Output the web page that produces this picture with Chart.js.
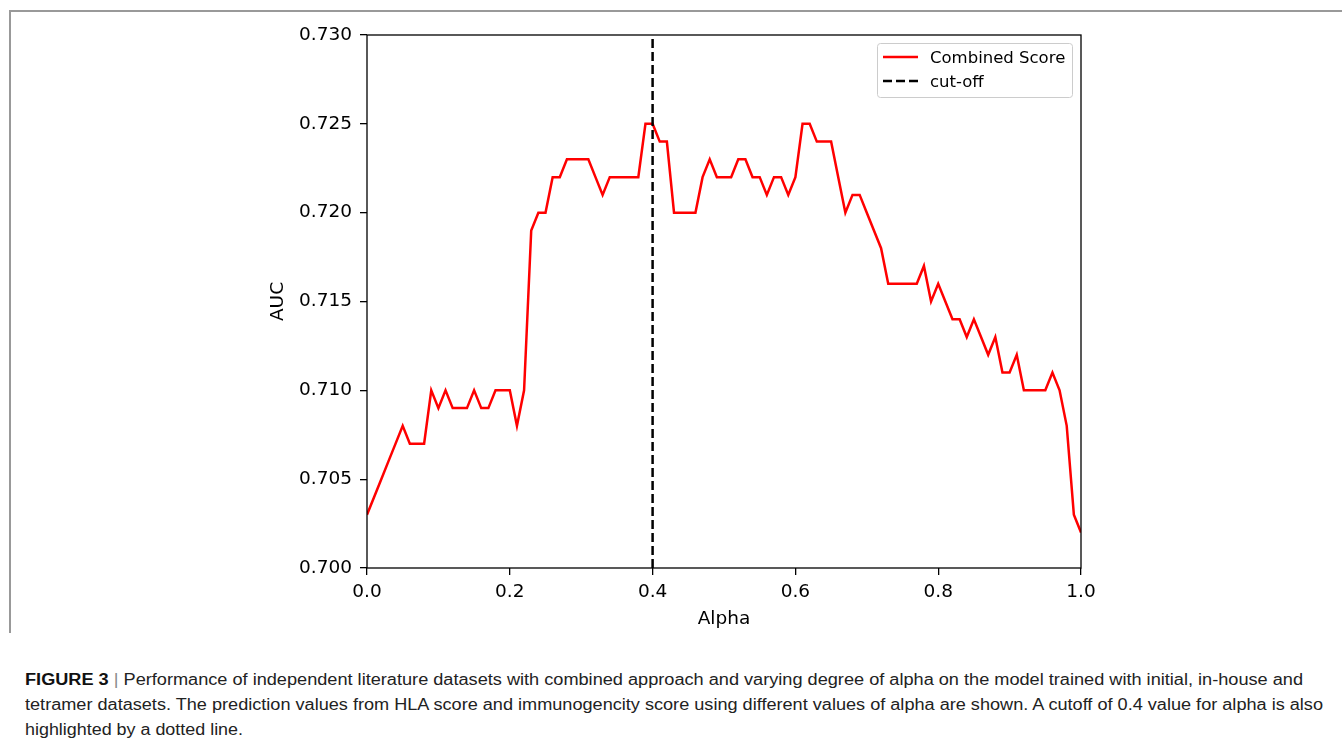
<!DOCTYPE html>
<html>
<head>
<meta charset="utf-8">
<script src="https://cdn.jsdelivr.net/npm/chart.js@4.4.1/dist/chart.umd.min.js"></script>
<style>
  html, body { margin:0; padding:0; background:#fff; width:1342px; height:746px; overflow:hidden; }
  #frame { position:absolute; left:9px; top:10px; width:1340px; height:623px; border-top:2px solid #999; border-left:2px solid #999; box-sizing:border-box; }
  #c { position:absolute; left:0; top:0; }
  #cap { position:absolute; left:25px; top:667px; font-family:"Liberation Sans", Arial, sans-serif; font-size:16px; line-height:25px; color:#222; }
  #cap div { white-space:nowrap; transform-origin:0 0; }
  #cap b { color:#111; }
  #cap .bar { color:#888; }
</style>
</head>
<body>
<div id="frame"></div>
<canvas id="c" width="1342" height="640"></canvas>
<div id="cap">
  <div id="l1" data-w="1278"><b>FIGURE 3</b> <span class="bar">|</span> Performance of independent literature datasets with combined approach and varying degree of alpha on the model trained with initial, in-house and</div>
  <div id="l2" data-w="1298">tetramer datasets. The prediction values from HLA score and immunogencity score using different values of alpha are shown. A cutoff of 0.4 value for alpha is also</div>
  <div id="l3" data-w="218">highlighted by a dotted line.</div>
</div>
<script>
const alpha = [0.00,0.01,0.02,0.03,0.04,0.05,0.06,0.07,0.08,0.09,
  0.10,0.11,0.12,0.13,0.14,0.15,0.16,0.17,0.18,0.19,
  0.20,0.21,0.22,0.23,0.24,0.25,0.26,0.27,0.28,0.29,
  0.30,0.31,0.32,0.33,0.34,0.35,0.36,0.37,0.38,0.39,
  0.40,0.41,0.42,0.43,0.44,0.45,0.46,0.47,0.48,0.49,
  0.50,0.51,0.52,0.53,0.54,0.55,0.56,0.57,0.58,0.59,
  0.60,0.61,0.62,0.63,0.64,0.65,0.66,0.67,0.68,0.69,
  0.70,0.71,0.72,0.73,0.74,0.75,0.76,0.77,0.78,0.79,
  0.80,0.81,0.82,0.83,0.84,0.85,0.86,0.87,0.88,0.89,
  0.90,0.91,0.92,0.93,0.94,0.95,0.96,0.97,0.98,0.99,1.00];
const combinedScore = [0.703,0.704,0.705,0.706,0.707,0.708,0.707,0.707,0.707,0.710,
  0.709,0.710,0.709,0.709,0.709,0.710,0.709,0.709,0.710,0.710,
  0.710,0.708,0.710,0.719,0.720,0.720,0.722,0.722,0.723,0.723,
  0.723,0.723,0.722,0.721,0.722,0.722,0.722,0.722,0.722,0.725,
  0.725,0.724,0.724,0.720,0.720,0.720,0.720,0.722,0.723,0.722,
  0.722,0.722,0.723,0.723,0.722,0.722,0.721,0.722,0.722,0.721,
  0.722,0.725,0.725,0.724,0.724,0.724,0.722,0.720,0.721,0.721,
  0.720,0.719,0.718,0.716,0.716,0.716,0.716,0.716,0.717,0.715,
  0.716,0.715,0.714,0.714,0.713,0.714,0.713,0.712,0.713,0.711,
  0.711,0.712,0.710,0.710,0.710,0.710,0.711,0.710,0.708,0.703,0.702];
const cutoffX = [0.4, 0.4];
const cutoffY = [0.700, 0.730];
const xTicks = [0.0, 0.2, 0.4, 0.6, 0.8, 1.0];
const yTicks = [0.700, 0.705, 0.710, 0.715, 0.720, 0.725, 0.730];
const legendLabels = ["Combined Score", "cut-off"];

const tickFont = { family: "'DejaVu Sans', sans-serif", size: 18.5 };
const dash = [9, 4];

const framePlugin = {
  id: 'frame',
  afterDatasetsDraw(chart) {
    const { ctx, chartArea: a } = chart;
    ctx.save();
    ctx.strokeStyle = '#000';
    ctx.lineWidth = 1.3;
    ctx.strokeRect(a.left, a.top, a.right - a.left, a.bottom - a.top);
    ctx.restore();
  },
  afterDraw(chart) {
    const { ctx } = chart;
    ctx.save();
    const bx = 877.5, by = 43.5, bw = 195, bh = 54, r = 3;
    ctx.beginPath();
    ctx.moveTo(bx + r, by);
    ctx.arcTo(bx + bw, by, bx + bw, by + bh, r);
    ctx.arcTo(bx + bw, by + bh, bx, by + bh, r);
    ctx.arcTo(bx, by + bh, bx, by, r);
    ctx.arcTo(bx, by, bx + bw, by, r);
    ctx.closePath();
    ctx.fillStyle = 'rgba(255,255,255,0.8)';
    ctx.fill();
    ctx.strokeStyle = '#cccccc';
    ctx.lineWidth = 1;
    ctx.stroke();
    ctx.lineWidth = 2.5;
    ctx.strokeStyle = '#ff0000';
    ctx.beginPath(); ctx.moveTo(883, 57); ctx.lineTo(918, 57); ctx.stroke();
    ctx.strokeStyle = '#000';
    ctx.setLineDash(dash);
    ctx.beginPath(); ctx.moveTo(883, 81); ctx.lineTo(918, 81); ctx.stroke();
    ctx.setLineDash([]);
    ctx.fillStyle = '#000';
    ctx.font = "16.5px 'DejaVu Sans', sans-serif";
    ctx.textBaseline = 'middle';
    ctx.textAlign = 'left';
    ctx.fillText(legendLabels[0], 930, 58.5);
    ctx.fillText(legendLabels[1], 930, 82.5);
    ctx.restore();
  }
};

new Chart(document.getElementById('c'), {
  type: 'line',
  data: {
    datasets: [
      {
        label: legendLabels[0],
        data: alpha.map((a, i) => ({ x: a, y: combinedScore[i] })),
        borderColor: '#ff0000',
        borderWidth: 2.5,
        pointRadius: 0,
        tension: 0,
        fill: false,
        order: 2
      },
      {
        label: legendLabels[1],
        data: cutoffX.map((a, i) => ({ x: a, y: cutoffY[i] })),
        borderColor: '#000000',
        borderWidth: 2.5,
        borderDash: dash,
        pointRadius: 0,
        fill: false,
        order: 1
      }
    ]
  },
  options: {
    responsive: false,
    animation: false,
    events: [],
    layout: { padding: { left: 0, top: 35, right: 261, bottom: 0 } },
    plugins: { legend: { display: false }, tooltip: { enabled: false } },
    scales: {
      x: {
        type: 'linear',
        min: 0, max: 1,
        afterFit(s) { s.height = 72; },
        afterBuildTicks(s) { s.ticks = xTicks.map(v => ({ value: v })); },
        ticks: { font: tickFont, color: '#000', padding: 6, maxRotation: 0,
                 callback: v => Number(v).toFixed(1) },
        grid: { display: true, drawOnChartArea: false, drawTicks: true, tickLength: 7, color: '#000', lineWidth: 1.3 },
        border: { display: false },
        title: { display: true, text: 'Alpha', font: tickFont, color: '#000', padding: { top: 0, bottom: 10 } }
      },
      y: {
        type: 'linear',
        min: 0.700, max: 0.730,
        afterFit(s) { s.width = 367; },
        afterBuildTicks(s) { s.ticks = yTicks.map(v => ({ value: v })); },
        ticks: { font: tickFont, color: '#000', padding: 8,
                 callback: v => Number(v).toFixed(3) },
        grid: { display: true, drawOnChartArea: false, drawTicks: true, tickLength: 7, color: '#000', lineWidth: 1.3 },
        border: { display: false },
        title: { display: true, text: 'AUC', font: tickFont, color: '#000', padding: { top: 267, bottom: 0 } }
      }
    }
  },
  plugins: [framePlugin]
});

document.querySelectorAll('#cap div').forEach(d => {
  const target = +d.dataset.w;
  d.style.display = 'inline-block';
  const nat = d.getBoundingClientRect().width;
  d.style.transform = 'scaleX(' + (target / nat) + ')';
  d.style.display = 'block';
  d.style.width = nat + 'px';
});
</script>
</body>
</html>
